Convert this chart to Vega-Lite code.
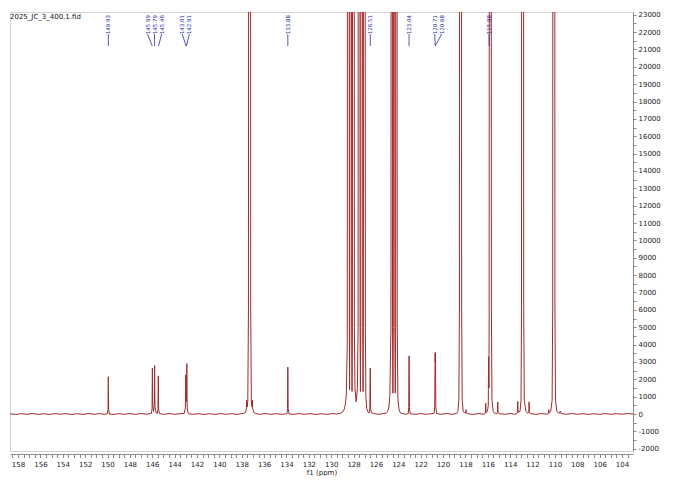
{
  "$schema": "https://vega.github.io/schema/vega-lite/v6.json",
  "width": 623,
  "height": 439,
  "padding": {"left": 10, "top": 10, "right": 0, "bottom": 0},
  "background": "white",
  "title": {"text": "2025_JC_3_400.1.fid", "anchor": "start", "frame": "group", "offset": -9, "font": "DejaVu Sans", "fontSize": 7, "fontWeight": "normal", "color": "#111111"},
  "config": {
    "view": {"stroke": "#d4d4d4", "strokeWidth": 1},
    "axis": {"labelFont": "DejaVu Sans", "labelFontSize": 7, "labelColor": "#222222", "titleFont": "DejaVu Sans", "titleFontSize": 7, "titleFontWeight": "normal", "titleColor": "#222222", "domainColor": "#8a8a8a", "tickColor": "#8a8a8a", "grid": false, "labelOverlap": false, "labelFlush": false}
  },
  "datasets": {
    "spec": [
      {"ppm": 158.72, "i": 10}, {"ppm": 158.2, "i": -25}, {"ppm": 157.7, "i": 20}, {"ppm": 157.2, "i": -15}, {"ppm": 156.7, "i": 30}, {"ppm": 156.2, "i": -20}, {"ppm": 155.7, "i": 15}, {"ppm": 155.2, "i": -30}, {"ppm": 154.7, "i": 25}, {"ppm": 154.2, "i": -10}, {"ppm": 153.7, "i": 20}, {"ppm": 153.2, "i": -25}, {"ppm": 152.7, "i": 15}, {"ppm": 152.2, "i": -20}, {"ppm": 151.7, "i": 30}, {"ppm": 151.2, "i": -15}, {"ppm": 150.7, "i": 20}, {"ppm": 150.3, "i": -20},
      {"ppm": 150.03, "i": 10}, {"ppm": 149.96, "i": 260}, {"ppm": 149.93, "i": 2150}, {"ppm": 149.90, "i": 260}, {"ppm": 149.83, "i": 0},
      {"ppm": 149.5, "i": -25}, {"ppm": 149.0, "i": 20}, {"ppm": 148.5, "i": -15}, {"ppm": 148.0, "i": 25}, {"ppm": 147.5, "i": -20}, {"ppm": 147.0, "i": 30}, {"ppm": 146.5, "i": -10}, {"ppm": 146.2, "i": 20},
      {"ppm": 146.08, "i": 30}, {"ppm": 146.02, "i": 300}, {"ppm": 145.99, "i": 2650}, {"ppm": 145.96, "i": 500}, {"ppm": 145.89, "i": 150}, {"ppm": 145.82, "i": 500}, {"ppm": 145.79, "i": 2800}, {"ppm": 145.76, "i": 400}, {"ppm": 145.65, "i": 60}, {"ppm": 145.55, "i": 40}, {"ppm": 145.49, "i": 260}, {"ppm": 145.46, "i": 2200}, {"ppm": 145.43, "i": 260}, {"ppm": 145.36, "i": 20},
      {"ppm": 145.0, "i": -20}, {"ppm": 144.5, "i": 25}, {"ppm": 144.0, "i": -15}, {"ppm": 143.5, "i": 20},
      {"ppm": 143.15, "i": 30}, {"ppm": 143.04, "i": 350}, {"ppm": 143.01, "i": 2250}, {"ppm": 142.97, "i": 700}, {"ppm": 142.94, "i": 900}, {"ppm": 142.91, "i": 2900}, {"ppm": 142.88, "i": 350}, {"ppm": 142.78, "i": 20},
      {"ppm": 142.4, "i": -20}, {"ppm": 141.9, "i": 20}, {"ppm": 141.4, "i": -25}, {"ppm": 140.9, "i": 15}, {"ppm": 140.4, "i": -20}, {"ppm": 139.9, "i": 25}, {"ppm": 139.4, "i": -15}, {"ppm": 138.9, "i": 20}, {"ppm": 138.4, "i": -25}, {"ppm": 138.0, "i": 30},
      {"ppm": 137.8, "i": 40}, {"ppm": 137.65, "i": 100}, {"ppm": 137.58, "i": 350}, {"ppm": 137.55, "i": 800}, {"ppm": 137.52, "i": 400}, {"ppm": 137.46, "i": 700}, {"ppm": 137.40, "i": 6000}, {"ppm": 137.38, "i": 40000}, {"ppm": 137.35, "i": 100000}, {"ppm": 137.25, "i": 100000}, {"ppm": 137.22, "i": 40000}, {"ppm": 137.20, "i": 6000}, {"ppm": 137.14, "i": 700}, {"ppm": 137.08, "i": 400}, {"ppm": 137.05, "i": 800}, {"ppm": 137.02, "i": 350}, {"ppm": 136.95, "i": 100}, {"ppm": 136.8, "i": 40},
      {"ppm": 136.4, "i": -20}, {"ppm": 135.9, "i": 25}, {"ppm": 135.4, "i": -15}, {"ppm": 134.9, "i": 20}, {"ppm": 134.4, "i": -20},
      {"ppm": 134.05, "i": 15}, {"ppm": 133.95, "i": 30}, {"ppm": 133.91, "i": 320}, {"ppm": 133.88, "i": 2700}, {"ppm": 133.85, "i": 320}, {"ppm": 133.78, "i": 10},
      {"ppm": 133.4, "i": -20}, {"ppm": 132.9, "i": 25}, {"ppm": 132.4, "i": -15}, {"ppm": 131.9, "i": 20}, {"ppm": 131.4, "i": -25}, {"ppm": 130.9, "i": 15}, {"ppm": 130.4, "i": -20}, {"ppm": 129.9, "i": 25}, {"ppm": 129.5, "i": 0},
      {"ppm": 129.2, "i": 40}, {"ppm": 129.0, "i": 100}, {"ppm": 128.85, "i": 250}, {"ppm": 128.75, "i": 500}, {"ppm": 128.65, "i": 1100},
      {"ppm": 128.57, "i": 4000}, {"ppm": 128.54, "i": 40000}, {"ppm": 128.50, "i": 100000}, {"ppm": 128.44, "i": 100000}, {"ppm": 128.40, "i": 40000}, {"ppm": 128.38, "i": 5000}, {"ppm": 128.36, "i": 1400},
      {"ppm": 128.34, "i": 5000}, {"ppm": 128.32, "i": 40000}, {"ppm": 128.28, "i": 100000}, {"ppm": 128.23, "i": 100000}, {"ppm": 128.19, "i": 40000}, {"ppm": 128.17, "i": 5000}, {"ppm": 128.14, "i": 1300},
      {"ppm": 128.11, "i": 5000}, {"ppm": 128.09, "i": 40000}, {"ppm": 128.05, "i": 100000}, {"ppm": 127.99, "i": 100000}, {"ppm": 127.95, "i": 40000}, {"ppm": 127.93, "i": 5000}, {"ppm": 127.88, "i": 1500}, {"ppm": 127.77, "i": 700}, {"ppm": 127.66, "i": 1500},
      {"ppm": 127.60, "i": 5000}, {"ppm": 127.58, "i": 40000}, {"ppm": 127.54, "i": 100000}, {"ppm": 127.48, "i": 100000}, {"ppm": 127.44, "i": 40000}, {"ppm": 127.42, "i": 5000}, {"ppm": 127.39, "i": 1300},
      {"ppm": 127.36, "i": 5000}, {"ppm": 127.34, "i": 40000}, {"ppm": 127.30, "i": 100000}, {"ppm": 127.24, "i": 100000}, {"ppm": 127.20, "i": 40000}, {"ppm": 127.18, "i": 5000}, {"ppm": 127.155, "i": 1300},
      {"ppm": 127.13, "i": 5000}, {"ppm": 127.11, "i": 40000}, {"ppm": 127.07, "i": 100000}, {"ppm": 127.01, "i": 100000}, {"ppm": 126.97, "i": 40000}, {"ppm": 126.95, "i": 5000}, {"ppm": 126.90, "i": 1000}, {"ppm": 126.82, "i": 300}, {"ppm": 126.72, "i": 120}, {"ppm": 126.62, "i": 60},
      {"ppm": 126.55, "i": 300}, {"ppm": 126.51, "i": 2650}, {"ppm": 126.48, "i": 300}, {"ppm": 126.40, "i": 60},
      {"ppm": 126.2, "i": 30}, {"ppm": 125.8, "i": -20}, {"ppm": 125.4, "i": 20}, {"ppm": 125.1, "i": 40}, {"ppm": 124.95, "i": 150}, {"ppm": 124.85, "i": 400}, {"ppm": 124.76, "i": 1000},
      {"ppm": 124.66, "i": 5000}, {"ppm": 124.64, "i": 40000}, {"ppm": 124.61, "i": 100000}, {"ppm": 124.57, "i": 100000}, {"ppm": 124.54, "i": 40000}, {"ppm": 124.52, "i": 5000}, {"ppm": 124.485, "i": 1200},
      {"ppm": 124.45, "i": 5000}, {"ppm": 124.43, "i": 40000}, {"ppm": 124.40, "i": 100000}, {"ppm": 124.36, "i": 100000}, {"ppm": 124.33, "i": 40000}, {"ppm": 124.31, "i": 5000}, {"ppm": 124.275, "i": 1200},
      {"ppm": 124.24, "i": 5000}, {"ppm": 124.22, "i": 40000}, {"ppm": 124.19, "i": 100000}, {"ppm": 124.15, "i": 100000}, {"ppm": 124.12, "i": 40000}, {"ppm": 124.10, "i": 5000}, {"ppm": 124.04, "i": 900}, {"ppm": 123.95, "i": 300}, {"ppm": 123.85, "i": 100}, {"ppm": 123.7, "i": 30},
      {"ppm": 123.3, "i": -15}, {"ppm": 123.12, "i": 20}, {"ppm": 123.07, "i": 380}, {"ppm": 123.04, "i": 3350}, {"ppm": 123.01, "i": 380}, {"ppm": 122.95, "i": 20},
      {"ppm": 122.5, "i": -20}, {"ppm": 122.0, "i": 25}, {"ppm": 121.5, "i": -15}, {"ppm": 121.0, "i": 20},
      {"ppm": 120.80, "i": 40}, {"ppm": 120.75, "i": 400}, {"ppm": 120.71, "i": 3500}, {"ppm": 120.695, "i": 3000}, {"ppm": 120.68, "i": 3550}, {"ppm": 120.65, "i": 400}, {"ppm": 120.58, "i": 30},
      {"ppm": 120.2, "i": -20}, {"ppm": 119.7, "i": 25}, {"ppm": 119.2, "i": -15}, {"ppm": 118.8, "i": 30},
      {"ppm": 118.68, "i": 150}, {"ppm": 118.59, "i": 800}, {"ppm": 118.54, "i": 6000}, {"ppm": 118.52, "i": 40000}, {"ppm": 118.49, "i": 100000}, {"ppm": 118.39, "i": 100000}, {"ppm": 118.36, "i": 40000}, {"ppm": 118.34, "i": 6000}, {"ppm": 118.29, "i": 800}, {"ppm": 118.2, "i": 150}, {"ppm": 118.05, "i": 40},
      {"ppm": 117.98, "i": 60}, {"ppm": 117.95, "i": 250}, {"ppm": 117.92, "i": 60}, {"ppm": 117.8, "i": 10},
      {"ppm": 117.3, "i": -20}, {"ppm": 116.8, "i": 25}, {"ppm": 116.4, "i": -15},
      {"ppm": 116.25, "i": 20}, {"ppm": 116.21, "i": 100}, {"ppm": 116.19, "i": 630}, {"ppm": 116.17, "i": 100}, {"ppm": 116.10, "i": 80}, {"ppm": 116.0, "i": 300}, {"ppm": 115.96, "i": 500}, {"ppm": 115.93, "i": 3300}, {"ppm": 115.90, "i": 1500},
      {"ppm": 115.88, "i": 6000}, {"ppm": 115.86, "i": 40000}, {"ppm": 115.83, "i": 100000}, {"ppm": 115.73, "i": 100000}, {"ppm": 115.70, "i": 40000}, {"ppm": 115.68, "i": 6000}, {"ppm": 115.63, "i": 800}, {"ppm": 115.52, "i": 150}, {"ppm": 115.4, "i": 50},
      {"ppm": 115.18, "i": 30}, {"ppm": 115.13, "i": 100}, {"ppm": 115.11, "i": 690}, {"ppm": 115.09, "i": 100}, {"ppm": 115.0, "i": 20},
      {"ppm": 114.5, "i": -20}, {"ppm": 114.0, "i": 25}, {"ppm": 113.6, "i": -15},
      {"ppm": 113.40, "i": 30}, {"ppm": 113.34, "i": 100}, {"ppm": 113.32, "i": 720}, {"ppm": 113.30, "i": 100}, {"ppm": 113.12, "i": 150},
      {"ppm": 113.03, "i": 800}, {"ppm": 112.99, "i": 6000}, {"ppm": 112.97, "i": 40000}, {"ppm": 112.94, "i": 100000}, {"ppm": 112.84, "i": 100000}, {"ppm": 112.81, "i": 40000}, {"ppm": 112.79, "i": 6000}, {"ppm": 112.74, "i": 800}, {"ppm": 112.6, "i": 150}, {"ppm": 112.4, "i": 40},
      {"ppm": 112.33, "i": 100}, {"ppm": 112.31, "i": 700}, {"ppm": 112.29, "i": 100}, {"ppm": 112.2, "i": 20},
      {"ppm": 111.7, "i": -20}, {"ppm": 111.2, "i": 25}, {"ppm": 110.7, "i": -10},
      {"ppm": 110.57, "i": 30}, {"ppm": 110.55, "i": 250}, {"ppm": 110.52, "i": 60}, {"ppm": 110.38, "i": 150},
      {"ppm": 110.25, "i": 800}, {"ppm": 110.20, "i": 6000}, {"ppm": 110.18, "i": 40000}, {"ppm": 110.15, "i": 100000}, {"ppm": 110.05, "i": 100000}, {"ppm": 110.02, "i": 40000}, {"ppm": 110.00, "i": 6000}, {"ppm": 109.95, "i": 800}, {"ppm": 109.83, "i": 150}, {"ppm": 109.65, "i": 30},
      {"ppm": 109.50, "i": 170}, {"ppm": 109.46, "i": 30},
      {"ppm": 109.0, "i": -20}, {"ppm": 108.5, "i": 25}, {"ppm": 108.0, "i": -15}, {"ppm": 107.5, "i": 20}, {"ppm": 107.0, "i": -25}, {"ppm": 106.5, "i": 15}, {"ppm": 106.0, "i": -20}, {"ppm": 105.5, "i": 25}, {"ppm": 105.0, "i": -15}, {"ppm": 104.5, "i": 20}, {"ppm": 104.0, "i": -10}, {"ppm": 103.5, "i": 25}, {"ppm": 103.02, "i": 0}
    ],
    "labels": [
      {"label": "149.93", "lx": 149.93, "px": 149.93},
      {"label": "145.99", "lx": 146.42, "px": 146.0},
      {"label": "145.79", "lx": 145.80, "px": 145.79},
      {"label": "145.46", "lx": 145.16, "px": 145.44},
      {"label": "143.01", "lx": 143.33, "px": 142.97},
      {"label": "142.91", "lx": 142.68, "px": 142.95},
      {"label": "133.88", "lx": 133.88, "px": 133.88},
      {"label": "126.51", "lx": 126.51, "px": 126.51},
      {"label": "123.04", "lx": 123.04, "px": 123.04},
      {"label": "120.71", "lx": 120.75, "px": 120.70},
      {"label": "120.68", "lx": 120.12, "px": 120.70},
      {"label": "115.88", "lx": 115.88, "px": 115.88}
    ]
  },
  "layer": [
    {
      "data": {"name": "spec"},
      "mark": {"type": "line", "clip": true, "stroke": "#a02a2b", "strokeWidth": 1, "interpolate": "linear"},
      "encoding": {
        "x": {"field": "ppm", "type": "quantitative", "sort": null,
          "scale": {"domain": [103.02, 158.72], "reverse": true, "nice": false, "zero": false},
          "axis": {"orient": "bottom", "title": "f1 (ppm)", "offset": 3, "tickCount": 111, "tickSize": 3.5, "labelPadding": 3, "titlePadding": 1,
            "labelExpr": "datum.value % 2 == 0 ? format(datum.value, 'd') : ''",
            "encode": {"ticks": {"update": {"y2": {"signal": "datum.value % 2 == 0 ? 3.5 : 1.5"}}}}}},
        "y": {"field": "i", "type": "quantitative",
          "scale": {"domain": [-2131, 23157], "nice": false, "zero": false},
          "axis": {"orient": "right", "title": null, "tickCount": 51, "tickSize": 3, "labelPadding": 2,
            "labelExpr": "datum.value % 1000 == 0 ? (datum.value < 0 ? '-' + format(-datum.value, 'd') : format(datum.value, 'd')) : ''",
            "encode": {"ticks": {"update": {"x2": {"signal": "datum.value % 1000 == 0 ? 3 : 1.5"}}}}}}
      }
    },
    {
      "data": {"name": "labels"},
      "mark": {"type": "rule", "stroke": "#2b2ba0", "strokeWidth": 0.8},
      "encoding": {
        "x": {"field": "lx", "type": "quantitative"},
        "x2": {"field": "px"},
        "y": {"datum": 21889},
        "y2": {"datum": 21198}
      }
    },
    {
      "data": {"name": "labels"},
      "mark": {"type": "text", "angle": 270, "align": "right", "baseline": "middle", "font": "DejaVu Sans", "fontSize": 5.5, "fill": "#2b2ba0"},
      "encoding": {
        "x": {"field": "lx", "type": "quantitative"},
        "y": {"datum": 22984},
        "text": {"field": "label"}
      }
    }
  ]
}
